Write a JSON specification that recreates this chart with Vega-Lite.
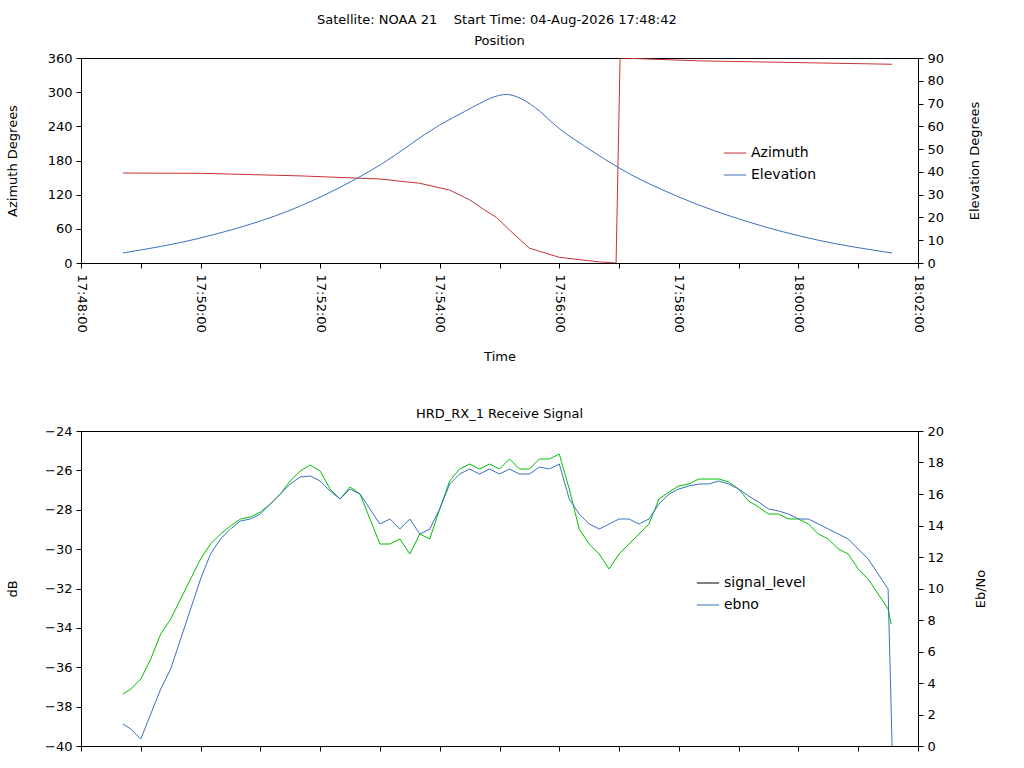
{
  "$schema": "https://vega.github.io/schema/vega-lite/v6.json",
  "title": {"text": "Satellite: NOAA 21\u00a0\u00a0\u00a0\u00a0Start Time: 04-Aug-2026 17:48:42", "fontSize": 13, "fontWeight": "normal", "font": "DejaVu Sans", "offset": 8, "anchor": "middle"},
  "padding": {"left": 5, "top": 13, "right": 5, "bottom": 0},
  "config": {
    "font": "DejaVu Sans",
    "view": {"stroke": "black", "strokeWidth": 1},
    "axis": {"grid": false, "domainColor": "black", "tickColor": "black", "labelColor": "black", "titleColor": "black", "labelFontSize": 13, "titleFontSize": 13, "titleFontWeight": "normal", "tickSize": 5, "labelPadding": 4},
    "axisLeft": {"titlePadding": 28},
    "axisRight": {"titleAngle": 270, "titlePadding": 38},
    "title": {"fontSize": 13, "fontWeight": "normal", "offset": 4},
    "legend": {"labelFontSize": 14, "symbolType": "stroke", "symbolSize": 500, "symbolStrokeWidth": 1, "symbolOpacity": 1, "rowPadding": 3}
  },
  "resolve": {"scale": {"color": "independent"}},
  "datasets": {
    "az": [
      {"s": 42, "v": 158}, {"s": 120, "v": 157.5}, {"s": 220, "v": 153}, {"s": 300, "v": 147.5}, {"s": 340, "v": 140},
      {"s": 370, "v": 128}, {"s": 390, "v": 111}, {"s": 405, "v": 93}, {"s": 417, "v": 80}, {"s": 430, "v": 58},
      {"s": 450, "v": 26}, {"s": 480, "v": 10}, {"s": 520, "v": 2}, {"s": 537, "v": 0}, {"s": 541, "v": 360},
      {"s": 620, "v": 355}, {"s": 814, "v": 349}
    ],
    "el": [
      {"s": 42, "v": 4.4}, {"s": 120, "v": 11}, {"s": 220, "v": 25}, {"s": 300, "v": 43}, {"s": 360, "v": 60.6},
      {"s": 385, "v": 66.5}, {"s": 400, "v": 70}, {"s": 415, "v": 73}, {"s": 427, "v": 74}, {"s": 440, "v": 72.5},
      {"s": 455, "v": 68.5}, {"s": 480, "v": 59}, {"s": 510, "v": 50}, {"s": 540, "v": 41.7}, {"s": 600, "v": 29},
      {"s": 670, "v": 18}, {"s": 740, "v": 10}, {"s": 814, "v": 4.4}
    ],
    "sig": [
      {"s": 42, "y": 695}, {"s": 50, "y": 690}, {"s": 60, "y": 680}, {"s": 70, "y": 660}, {"s": 80, "y": 635},
      {"s": 90, "y": 620}, {"s": 100, "y": 600}, {"s": 110, "y": 580}, {"s": 120, "y": 560}, {"s": 130, "y": 545},
      {"s": 140, "y": 535}, {"s": 150, "y": 527}, {"s": 160, "y": 520}, {"s": 170, "y": 518}, {"s": 180, "y": 513},
      {"s": 190, "y": 505}, {"s": 200, "y": 495}, {"s": 210, "y": 482}, {"s": 220, "y": 472}, {"s": 230, "y": 466},
      {"s": 240, "y": 472}, {"s": 250, "y": 490}, {"s": 260, "y": 500}, {"s": 270, "y": 488}, {"s": 280, "y": 495},
      {"s": 290, "y": 520}, {"s": 300, "y": 545}, {"s": 310, "y": 545}, {"s": 320, "y": 540}, {"s": 330, "y": 555},
      {"s": 340, "y": 535}, {"s": 350, "y": 540}, {"s": 360, "y": 510}, {"s": 370, "y": 482}, {"s": 380, "y": 470},
      {"s": 390, "y": 465}, {"s": 400, "y": 470}, {"s": 410, "y": 465}, {"s": 420, "y": 470}, {"s": 430, "y": 460},
      {"s": 440, "y": 470}, {"s": 450, "y": 470}, {"s": 460, "y": 460}, {"s": 470, "y": 460}, {"s": 480, "y": 455},
      {"s": 490, "y": 490}, {"s": 500, "y": 530}, {"s": 510, "y": 545}, {"s": 520, "y": 555}, {"s": 530, "y": 570},
      {"s": 540, "y": 555}, {"s": 550, "y": 545}, {"s": 560, "y": 535}, {"s": 570, "y": 525}, {"s": 580, "y": 500},
      {"s": 590, "y": 493}, {"s": 600, "y": 487}, {"s": 610, "y": 485}, {"s": 620, "y": 480}, {"s": 630, "y": 480},
      {"s": 640, "y": 480}, {"s": 650, "y": 483}, {"s": 660, "y": 490}, {"s": 670, "y": 502}, {"s": 680, "y": 508},
      {"s": 690, "y": 515}, {"s": 700, "y": 515}, {"s": 710, "y": 520}, {"s": 720, "y": 520}, {"s": 730, "y": 525},
      {"s": 740, "y": 535}, {"s": 750, "y": 540}, {"s": 760, "y": 550}, {"s": 770, "y": 555}, {"s": 780, "y": 570},
      {"s": 790, "y": 580}, {"s": 800, "y": 595}, {"s": 810, "y": 610}, {"s": 813, "y": 625}
    ],
    "ebno": [
      {"s": 42, "y": 725}, {"s": 50, "y": 730}, {"s": 60, "y": 740}, {"s": 70, "y": 715}, {"s": 80, "y": 690},
      {"s": 90, "y": 670}, {"s": 100, "y": 640}, {"s": 110, "y": 610}, {"s": 120, "y": 580}, {"s": 130, "y": 555},
      {"s": 140, "y": 540}, {"s": 150, "y": 530}, {"s": 160, "y": 522}, {"s": 170, "y": 520}, {"s": 180, "y": 515},
      {"s": 190, "y": 505}, {"s": 200, "y": 495}, {"s": 210, "y": 485}, {"s": 220, "y": 478}, {"s": 230, "y": 477},
      {"s": 240, "y": 482}, {"s": 250, "y": 492}, {"s": 260, "y": 500}, {"s": 270, "y": 490}, {"s": 280, "y": 495},
      {"s": 290, "y": 510}, {"s": 300, "y": 525}, {"s": 310, "y": 520}, {"s": 320, "y": 530}, {"s": 330, "y": 520},
      {"s": 340, "y": 535}, {"s": 350, "y": 530}, {"s": 360, "y": 510}, {"s": 370, "y": 485}, {"s": 380, "y": 475},
      {"s": 390, "y": 470}, {"s": 400, "y": 475}, {"s": 410, "y": 470}, {"s": 420, "y": 475}, {"s": 430, "y": 470},
      {"s": 440, "y": 475}, {"s": 450, "y": 475}, {"s": 460, "y": 468}, {"s": 470, "y": 470}, {"s": 480, "y": 465},
      {"s": 490, "y": 500}, {"s": 500, "y": 515}, {"s": 510, "y": 525}, {"s": 520, "y": 530}, {"s": 530, "y": 525},
      {"s": 540, "y": 520}, {"s": 550, "y": 520}, {"s": 560, "y": 525}, {"s": 570, "y": 520}, {"s": 580, "y": 505},
      {"s": 590, "y": 495}, {"s": 600, "y": 490}, {"s": 610, "y": 487}, {"s": 620, "y": 485}, {"s": 630, "y": 485},
      {"s": 640, "y": 482}, {"s": 650, "y": 485}, {"s": 660, "y": 490}, {"s": 670, "y": 497}, {"s": 680, "y": 503},
      {"s": 690, "y": 510}, {"s": 700, "y": 512}, {"s": 710, "y": 515}, {"s": 720, "y": 520}, {"s": 730, "y": 520},
      {"s": 740, "y": 525}, {"s": 750, "y": 530}, {"s": 760, "y": 535}, {"s": 770, "y": 540}, {"s": 780, "y": 550},
      {"s": 790, "y": 560}, {"s": 800, "y": 575}, {"s": 810, "y": 590}, {"s": 814, "y": 747}
    ]
  },
  "spacing": 43,
  "vconcat": [
    {
      "title": "Position",
      "width": 837,
      "height": 205,
      "resolve": {"scale": {"y": "independent"}},
      "layer": [
        {
          "data": {"name": "az"},
          "mark": {"type": "line", "strokeWidth": 1, "clip": true},
          "encoding": {
            "x": {"field": "s", "type": "quantitative", "title": "Time", "scale": {"domain": [0, 840], "nice": false},
              "axis": {"values": [0, 60, 120, 180, 240, 300, 360, 420, 480, 540, 600, 660, 720, 780, 840], "labelAngle": 90, "labelAlign": "left", "labelBaseline": "middle", "labelPadding": 6, "titlePadding": 18,
                "labelExpr": "datum.value % 120 == 0 ? timeFormat(datetime(2026, 7, 4, 17, 48, datum.value), '%H:%M:%S') : ''"}},
            "y": {"field": "v", "type": "quantitative", "title": "Azimuth Degrees", "scale": {"domain": [0, 360], "nice": false}, "axis": {"values": [0, 60, 120, 180, 240, 300, 360]}},
            "color": {"datum": "Azimuth", "scale": {"domain": ["Azimuth", "Elevation"], "range": ["#c83232", "#3a6fc0"]},
              "legend": {"title": null, "orient": "none", "legendX": 642, "legendY": 83}}
          }
        },
        {
          "data": {"name": "el"},
          "mark": {"type": "line", "strokeWidth": 1, "interpolate": "monotone"},
          "encoding": {
            "x": {"field": "s", "type": "quantitative"},
            "y": {"field": "v", "type": "quantitative", "title": "Elevation Degrees", "scale": {"domain": [0, 90], "nice": false}, "axis": {"orient": "right", "values": [0, 10, 20, 30, 40, 50, 60, 70, 80, 90]}},
            "color": {"datum": "Elevation"}
          }
        }
      ]
    },
    {
      "title": "HRD_RX_1 Receive Signal",
      "width": 837,
      "height": 315,
      "resolve": {"scale": {"y": "independent"}},
      "layer": [
        {
          "data": {"name": "sig"},
          "transform": [{"calculate": "-24 - (datum.y - 432) / 19.6875", "as": "db"}],
          "mark": {"type": "line", "strokeWidth": 1, "color": "#00c000"},
          "encoding": {
            "x": {"field": "s", "type": "quantitative", "title": null, "scale": {"domain": [0, 840], "nice": false},
              "axis": {"values": [0, 60, 120, 180, 240, 300, 360, 420, 480, 540, 600, 660, 720, 780, 840], "labels": false}},
            "y": {"field": "db", "type": "quantitative", "title": "dB", "scale": {"domain": [-40, -24], "nice": false}, "axis": {"values": [-40, -38, -36, -34, -32, -30, -28, -26, -24], "titlePadding": 25}}
          }
        },
        {
          "data": {"name": "ebno"},
          "transform": [{"calculate": "(747 - datum.y) / 15.75", "as": "e"}],
          "mark": {"type": "line", "strokeWidth": 1, "color": "#3a6fc0"},
          "encoding": {
            "x": {"field": "s", "type": "quantitative"},
            "y": {"field": "e", "type": "quantitative", "title": "Eb/No", "scale": {"domain": [0, 20], "nice": false}, "axis": {"orient": "right", "values": [0, 2, 4, 6, 8, 10, 12, 14, 16, 18, 20], "titlePadding": 44}}
          }
        },
        {
          "data": {"name": "ebno"},
          "transform": [{"calculate": "(747 - datum.y) / 15.75", "as": "e"}],
          "mark": {"type": "line", "strokeWidth": 1, "strokeOpacity": 0},
          "encoding": {
            "x": {"field": "s", "type": "quantitative"},
            "y": {"field": "e", "type": "quantitative", "axis": null},
            "color": {"datum": "signal_level", "scale": {"domain": ["signal_level", "ebno"], "range": ["black", "#3a6fc0"]},
              "legend": {"title": null, "orient": "none", "legendX": 615, "legendY": 140}}
          }
        },
        {
          "data": {"name": "ebno"},
          "transform": [{"calculate": "(747 - datum.y) / 15.75", "as": "e"}],
          "mark": {"type": "line", "strokeWidth": 1, "strokeOpacity": 0},
          "encoding": {
            "x": {"field": "s", "type": "quantitative"},
            "y": {"field": "e", "type": "quantitative", "axis": null},
            "color": {"datum": "ebno"}
          }
        }
      ]
    }
  ]
}
